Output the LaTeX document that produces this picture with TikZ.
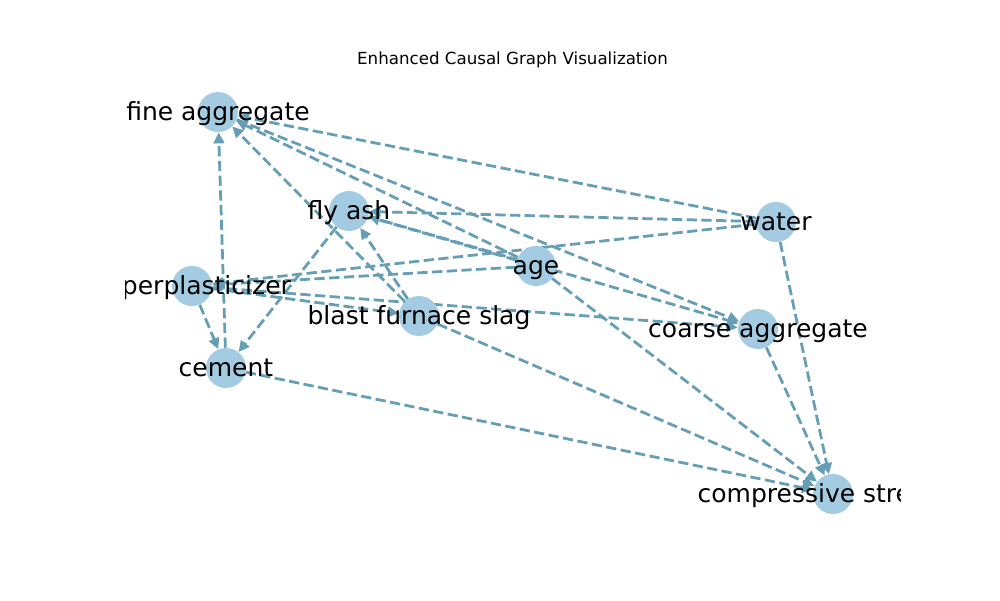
\documentclass[tikz,border=0pt]{standalone}
\usepackage{fontspec}
\setmainfont{DejaVu Sans}
\usetikzlibrary{arrows.meta}
\definecolor{nodeblue}{HTML}{A3CCE3}
\definecolor{edgeblue}{HTML}{659EB5}
\pgfdeclarelayer{bg}
\pgfsetlayers{bg,main}
\begin{document}
\begin{tikzpicture}[x=0.72pt,y=-0.72pt,
  vtx/.style={circle,fill=nodeblue,minimum size=28.8pt,inner sep=0pt},
  lbl/.style={anchor=base,inner sep=0pt,font=\fontsize{18}{21}\selectfont},
  edge/.style={draw=edgeblue,line width=2pt,dash pattern=on 7.4pt off 3.2pt,
    -{Triangle[length=8pt,width=7.5pt]}}]
\useasboundingbox (0,0) rectangle (1000,600);
% nodes
\node[vtx] (fa) at (218,112) {};
\node[vtx] (fly) at (349,211) {};
\node[vtx] (wa) at (776,222) {};
\node[vtx] (ag) at (536,266) {};
\node[vtx] (sp) at (192,286) {};
\node[vtx] (bfs) at (419,316) {};
\node[vtx] (ca) at (758,329) {};
\node[vtx] (ce) at (226,368) {};
\node[vtx] (cs) at (833,494) {};
% edges
\begin{pgfonlayer}{bg}
\draw[edge] (wa) -- (fa);
\draw[edge] (wa) -- (fly);
\draw[edge] (wa) -- (sp);
\draw[edge] (wa) -- (cs);
\draw[edge] (ag) -- (fa);
\draw[edge] (ag) -- (fly);
\draw[edge] (ag) -- (sp);
\draw[edge] (ag) -- (cs);
\draw[edge] (fa) -- (ca);
\draw[edge] (fly) -- (ca);
\draw[edge] (fly) -- (ce);
\draw[edge] (sp) -- (ce);
\draw[edge] (sp) -- (ca);
\draw[edge] (sp) -- (bfs);
\draw[edge] (bfs) -- (fa);
\draw[edge] (bfs) -- (fly);
\draw[edge] (bfs) -- (cs);
\draw[edge] (ce) -- (fa);
\draw[edge] (ce) -- (cs);
\draw[edge] (ca) -- (cs);
\end{pgfonlayer}
% labels
\begin{scope}
\clip (125,0) rectangle (900,600);
\node[lbl] (lfa) at (218,120) {fine aggregate};
\node[lbl] (lfly) at (349,219) {fly ash};
\node[lbl] (lwa) at (776,230) {water};
\node[lbl] (lag) at (536,274) {age};
\node[lbl] (lsp) at (192,294) {superplasticizer};
\node[lbl] (lbfs) at (419,324) {blast furnace slag};
\node[lbl] (lca) at (758,337) {coarse aggregate};
\node[lbl] (lce) at (226,376) {cement};
\node[lbl] (lcs) at (833,502) {compressive strength};
\end{scope}
\node[anchor=base,inner sep=0pt,font=\fontsize{12}{14}\selectfont] (title) at (512.5,64) {Enhanced Causal Graph Visualization};
\end{tikzpicture}
\end{document}
